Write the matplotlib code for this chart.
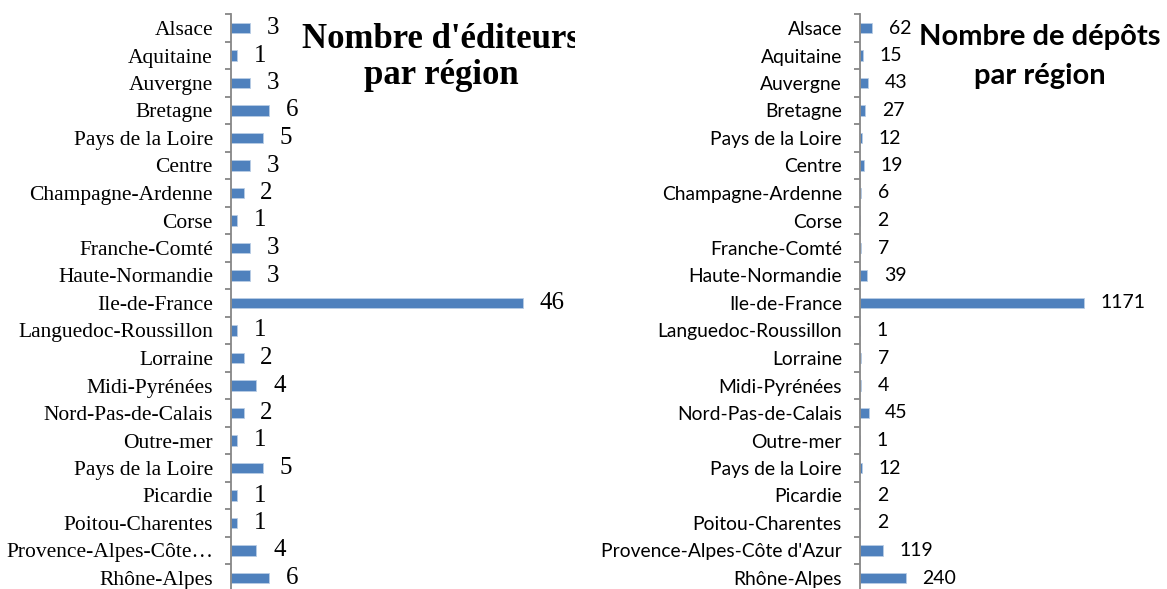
import matplotlib
matplotlib.use("Agg")
from matplotlib import pyplot as plt
import numpy as np

# Data
regions_ed = ["Alsace", "Aquitaine", "Auvergne", "Bretagne", "Pays de la Loire", "Centre",
              "Champagne-Ardenne", "Corse", "Franche-Comté", "Haute-Normandie", "Ile-de-France",
              "Languedoc-Roussillon", "Lorraine", "Midi-Pyrénées", "Nord-Pas-de-Calais",
              "Outre-mer", "Pays de la Loire", "Picardie", "Poitou-Charentes",
              "Provence-Alpes-Côte…", "Rhône-Alpes"]
editeurs = [3, 1, 3, 6, 5, 3, 2, 1, 3, 3, 46, 1, 2, 4, 2, 1, 5, 1, 1, 4, 6]

regions_dep = regions_ed[:-2] + ["Provence-Alpes-Côte d'Azur", "Rhône-Alpes"]
depots = [62, 15, 43, 27, 12, 19, 6, 2, 7, 39, 1171, 1, 7, 4, 45, 1, 12, 2, 2, 119, 240]

title_ed = ["Nombre d'éditeurs", "par région"]
title_dep = ["Nombre de dépôts", "par région"]

BLUE = "#4F81BD"
GREY = "#868686"

W, H = 1167, 589
fig = plt.figure(figsize=(W / 100, H / 100), dpi=100)


def panel(rect, labels, values, xmax, family, lab_size, val_size, title, tx, ty, tsize):
    ax = fig.add_axes(rect)
    y = np.arange(len(values))
    ax.barh(y, values, height=0.37, color=BLUE, edgecolor="#B9CDE5", linewidth=0.6)
    ax.set_ylim(len(values) - 0.5, -0.5)
    ax.set_xlim(0, xmax)
    for s in ["top", "right", "bottom"]:
        ax.spines[s].set_visible(False)
    ax.spines["left"].set_color(GREY)
    ax.spines["left"].set_linewidth(1.3)
    ax.set_xticks([])
    ax.set_yticks(y)
    ax.set_yticklabels(labels, family=family, fontsize=lab_size)
    ax.tick_params(axis="y", which="major", length=0, pad=13)
    ax.set_yticks(np.arange(len(values) + 1) - 0.5, minor=True)
    ax.tick_params(axis="y", which="minor", length=4, width=1.3, color=GREY)
    for yi, v in zip(y, values):
        ax.annotate(str(v), (v, yi), xytext=(12, 0), textcoords="offset points",
                    va="center", ha="left", family=family, fontsize=val_size)
    # two-line title, each line on its own baseline
    for line, yy in zip(title, ty):
        ax.text(tx, yy, line, transform=ax.transAxes, ha="center", va="baseline",
                family=family, fontsize=tsize, fontweight="bold", clip_on=True)
    ax.patch.set_visible(False)
    return ax


# figure-pixel geometry of the plot areas
top = 1 - 14.25 / H
bot = -2.75 / H
panel([231 / W, bot, (575 - 231) / W, top - bot], regions_ed, editeurs, 54.2,
      "Liberation Serif", 15.5, 18, title_ed, 0.61, (0.941, 0.879), 25)
panel([860 / W, bot, (W - 860) / W, top - bot], regions_dep, depots, 1607,
      "Lato", 13.9, 14, title_dep, 0.587, (0.947, 0.879), 21)

fig.savefig("out.png", dpi=100)
